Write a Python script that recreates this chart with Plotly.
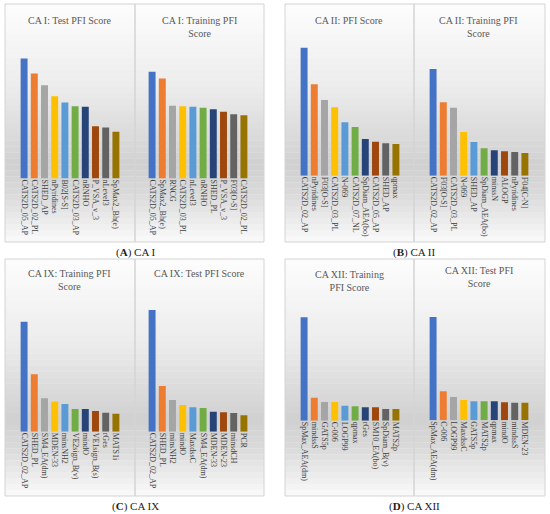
import plotly.graph_objects as go

W, H = 550, 514
COLORS = ["#4472C4", "#ED7D31", "#A5A5A5", "#FFC000", "#5B9BD5",
          "#70AD47", "#264478", "#9E480E", "#636363", "#997300"]

# ---- data (relative PFI scores) ----
ca1_test_labels = ["CATS2D_05_AP", "CATS2D_02_PL", "SHED_AP", "nPyridines", "B02[S-S]",
                   "CATS2D_03_AP", "nRNHO", "P_VSA_v_3", "nLevel3", "SpMax2_Bh(e)"]
ca1_test_values = [360, 315, 280, 247, 228, 217, 215, 157, 153, 140]

ca1_train_labels = ["CATS2D_05_AP", "SpMax2_Bh(e)", "RNCG", "CATS2D_03_PL", "nLevel3",
                    "nRNHO", "SHED_PL", "P_VSA_v_3", "F03[O-S]", "CATS2D_02_PL"]
ca1_train_values = [320, 300, 218, 217, 215, 212, 208, 200, 193, 190]

ca2_pfi_labels = ["CATS2D_02_AP", "nPyridines", "F03[O-S]", "CATS2D_03_PL", "N-069",
                  "CATS2D_07_NL", "SpDiam_AEA(bo)", "CATS2D_05_AP", "SHED_AP", "qpmax"]
ca2_pfi_values = [384, 274, 227, 205, 160, 146, 110, 102, 97, 95]

ca2_train_labels = ["CATS2D_02_AP", "F03[O-S]", "CATS2D_03_PL", "N-069", "SHED_AP",
                    "SpDiam_AEA(bo)", "minssN", "ALOGP", "nPyridines", "F04[C-N]"]
ca2_train_values = [320, 220, 204, 131, 101, 82, 76, 73, 71, 68]

ca9_train_labels = ["CATS2D_02_AP", "SHED_PL", "SM4_EA(dm)", "MDEN-33", "minsNH2",
                    "VE2sign_B(v)", "mindO", "VE1sign_B(s)", "rGes", "MATS1i"]
ca9_train_values = [330, 172, 100, 90, 83, 68, 68, 62, 57, 54]

ca9_test_labels = ["CATS2D_02_AP", "SHED_PL", "minsNH2", "mindO", "MaxdssC",
                   "SM4_EA(dm)", "MDEN-33", "MDEN-23", "minsdCH", "PCR"]
ca9_test_values = [365, 137, 95, 80, 73, 71, 60, 58, 56, 49]

ca12_train_labels = ["SpMax_AEA(dm)", "mindssS", "GATS5p", "C-006", "LOGP99",
                     "qpmax", "rGes", "SM10_EA(bo)", "SpDiam_B(v)", "MATS2p"]
ca12_train_values = [310, 69, 56, 56, 45, 43, 40, 40, 35, 35]

ca12_test_labels = ["SpMax_AEA(dm)", "C-006", "LOGP99", "MaxdssC", "GATS5p",
                    "MATS2p", "qpmax", "mindO", "mindssS", "MDEN-23"]
ca12_test_values = [310, 87, 70, 61, 57, 57, 57, 54, 53, 53]

titles = ["CA I: Test PFI Score", "CA I: Training PFI<br>Score",
          "CA II: PFI Score", "CA II: Training PFI<br>Score",
          "CA IX: Training PFI<br>Score", "CA IX: Test PFI Score",
          "CA XII: Training<br>PFI Score", "CA XII: Test PFI<br>Score"]
captions = ["(<b>A</b>) CA I", "(<b>B</b>) CA II", "(<b>C</b>) CA IX", "(<b>D</b>) CA XII"]

# ---- layout geometry (pixels) ----
charts = [
    # labels, values, x0, x1, baseline, top, title_x, title_y
    (ca1_test_labels, ca1_test_values, 19, 121, 178.5, 40, 70, 21),
    (ca1_train_labels, ca1_train_values, 147, 249, 178.5, 40, 199, 27),
    (ca2_pfi_labels, ca2_pfi_values, 299, 401, 175.7, 40, 349, 21),
    (ca2_train_labels, ca2_train_values, 428, 530, 175.7, 40, 479, 27),
    (ca9_train_labels, ca9_train_values, 19, 121, 431.7, 295, 70, 280),
    (ca9_test_labels, ca9_test_values, 147, 249, 431.7, 295, 199, 273),
    (ca12_train_labels, ca12_train_values, 299, 401, 420.7, 295, 349, 281),
    (ca12_test_labels, ca12_test_values, 428, 530, 420.3, 295, 479, 277),
]
panels = [  # x0, divider, x1, y0, y1, caption_y
    (5, 135, 264, 4, 242, 252),
    (285, 414, 545, 4, 242, 252),
    (5, 135, 264, 259, 496, 506),
    (285, 414, 545, 259, 496, 506),
]

def px(x):
    return x / W

def py(y):
    return 1 - y / H

fig = go.Figure()
layout = dict(width=W, height=H, margin=dict(l=0, r=0, t=0, b=0),
              paper_bgcolor="white", plot_bgcolor="rgba(0,0,0,0)",
              showlegend=False, bargap=0.32, hovermode=False,
              font=dict(family="Liberation Serif", color="#404040"))
annotations = []
shapes = []

for i, (labels, values, x0, x1, base, top, tx, ty) in enumerate(charts):
    k = i + 1
    xa = "x" if k == 1 else f"x{k}"
    ya = "y" if k == 1 else f"y{k}"
    fig.add_trace(go.Bar(x=labels, y=values, marker=dict(color=COLORS, line=dict(width=0)),
                         xaxis=xa, yaxis=ya))
    layout[f"xaxis{k if k > 1 else ''}"] = dict(
        domain=[px(x0), px(x1)], anchor=ya, tickangle=90, showgrid=False,
        zeroline=False, showline=False, ticks="", fixedrange=True,
        tickfont=dict(family="Liberation Serif", size=8, color="#404040"))
    layout[f"yaxis{k if k > 1 else ''}"] = dict(
        domain=[py(base), py(top)], anchor=xa, range=[0, (base - top) * 3],
        visible=False, fixedrange=True)
    annotations.append(dict(text=titles[i], x=px(tx), y=py(ty), xref="paper", yref="paper",
                            xanchor="center", yanchor="middle", showarrow=False,
                            font=dict(family="Liberation Serif", size=10, color="#595959")))

# gradient backgrounds + frames
stops = [(0.0, 253), (0.35, 236), (0.68, 208), (0.8, 218), (1.0, 250)]

def grey(t):
    for (a, ga), (b, gb) in zip(stops[:-1], stops[1:]):
        if a <= t <= b:
            g = ga + (gb - ga) * (t - a) / (b - a)
            return int(round(g))
    return 250

N = 40
for j, (x0, xd, x1, y0, y1, cy) in enumerate(panels):
    for s in range(N):
        ya0 = y0 + (y1 - y0) * s / N
        ya1 = y0 + (y1 - y0) * (s + 1) / N
        g = grey((s + 0.5) / N)
        shapes.append(dict(type="rect", xref="paper", yref="paper", layer="below",
                           x0=px(x0), x1=px(x1), y0=py(ya1), y1=py(ya0) + 0.0005,
                           fillcolor=f"rgb({g},{g},{g})", line=dict(width=0)))
    for (a, b) in [(x0, xd), (xd, x1)]:
        shapes.append(dict(type="rect", xref="paper", yref="paper", layer="below",
                           x0=px(a), x1=px(b), y0=py(y1), y1=py(y0),
                           line=dict(color="#d4d4d4", width=1), fillcolor="rgba(0,0,0,0)"))
    annotations.append(dict(text=captions[j], x=px(xd), y=py(cy), xref="paper", yref="paper",
                            xanchor="center", yanchor="middle", showarrow=False,
                            font=dict(family="Liberation Serif", size=11, color="#222222")))

layout["annotations"] = annotations
layout["shapes"] = shapes
fig.update_layout(**layout)
fig.write_html("out.html", config={"displayModeBar": False, "staticPlot": True},
               post_script="document.body.style.margin='0px';document.body.style.overflow='hidden';")
